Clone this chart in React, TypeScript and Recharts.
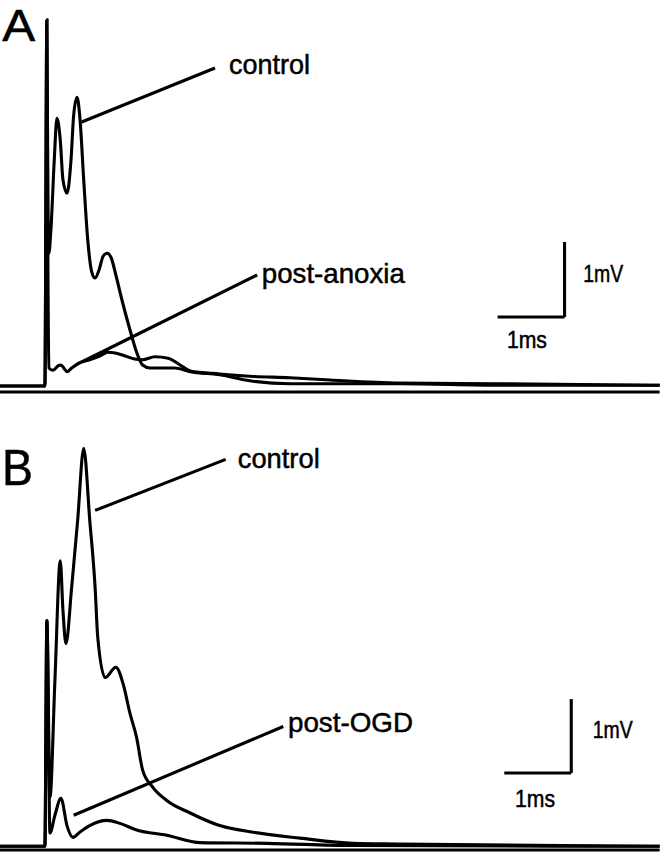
import { LineChart, Line, XAxis, YAxis, ReferenceLine, ReferenceDot } from "recharts";

// Evoked field potentials, two panels. Time in ms, amplitude in mV.
type Pt = [number, number];

// Panel A: control vs post-anoxia
const A_CONTROL: Pt[] = [
  [0, 0], [0.67, 0], [0.7, 4.88], [0.716, 2.3], [0.73, 1.77], [0.76, 2.08],
  [0.81, 3.01], [0.85, 3.57], [0.9, 3.28], [0.94, 2.75], [1.0, 2.57], [1.06, 3.01],
  [1.1, 3.61], [1.15, 3.85], [1.19, 3.61], [1.25, 2.75], [1.31, 1.95], [1.37, 1.52],
  [1.42, 1.44], [1.48, 1.55], [1.54, 1.73], [1.6, 1.77], [1.66, 1.71], [1.73, 1.48],
  [1.82, 1.15], [1.94, 0.75], [2.04, 0.45], [2.13, 0.28], [2.24, 0.24], [2.61, 0.24],
  [2.84, 0.19], [3.28, 0.15], [3.73, 0.07], [4.33, 0.03], [5.97, 0.03], [7.46, 0.01],
  [9.85, 0.01],
];
const A_ANOXIA: Pt[] = [
  [0, 0], [0.67, 0], [0.7, 4.88], [0.716, 1.5], [0.73, 0.24], [0.79, 0.21],
  [0.87, 0.27], [0.91, 0.28], [0.96, 0.23], [1.0, 0.19], [1.07, 0.24], [1.19, 0.31],
  [1.34, 0.35], [1.49, 0.4], [1.61, 0.45], [1.72, 0.44], [1.87, 0.4], [2.01, 0.36],
  [2.13, 0.35], [2.31, 0.39], [2.51, 0.37], [2.69, 0.28], [2.84, 0.2], [3.28, 0.16],
  [3.73, 0.13], [4.33, 0.11], [4.93, 0.08], [5.97, 0.04], [7.46, 0.03], [9.85, 0.01],
];

// Panel B: control vs post-OGD
const B_CONTROL: Pt[] = [
  [0, 0], [0.67, 0], [0.7, 3.05], [0.746, 0.66], [0.82, 2.24], [0.9, 3.86],
  [0.94, 3.19], [0.985, 2.74], [1.07, 3.5], [1.16, 4.41], [1.25, 5.38], [1.34, 4.41],
  [1.42, 3.5], [1.46, 2.82], [1.57, 2.28], [1.73, 2.42], [1.84, 2.19], [1.94, 1.8],
  [2.04, 1.47], [2.13, 1.03], [2.28, 0.8], [2.49, 0.62], [2.84, 0.45], [3.28, 0.28],
  [3.78, 0.19], [4.48, 0.11], [5.27, 0.04], [5.97, 0.03], [9.85, 0],
];
const B_OGD: Pt[] = [
  [0, 0], [0.67, 0], [0.7, 3.05], [0.746, 0.18], [0.82, 0.42], [0.91, 0.65],
  [1.0, 0.28], [1.09, 0.12], [1.19, 0.19], [1.34, 0.28], [1.6, 0.35], [1.79, 0.31],
  [2.04, 0.22], [2.49, 0.15], [2.99, 0.05], [3.99, 0.04], [5.27, 0.01], [9.85, 0],
];

// leader lines: [from, to] in (ms, mV)
const A_LEADERS: [Pt, Pt][] = [
  [[1.22, 3.52], [3.21, 4.24]],
  [[1.22, 0.32], [3.84, 1.48]],
];
const B_LEADERS: [Pt, Pt][] = [
  [[1.42, 4.54], [3.37, 5.23]],
  [[1.1, 0.42], [4.23, 1.62]],
];

// text: [label, t, v (left baseline), fontSize, width]
type Note = [string, number, number, number, number];
const A_NOTES: Note[] = [
  ["A", 0.035, 4.6, 45, 33],
  ["control", 3.42, 4.16, 28, 81],
  ["post-anoxia", 3.91, 1.37, 28, 143],
  ["1mV", 8.71, 1.39, 23, 40],
  ["1ms", 7.57, 0.51, 23, 40],
];
const B_NOTES: Note[] = [
  ["B", 0.03, 4.88, 50, 31],
  ["control", 3.55, 5.12, 28, 82],
  ["post-OGD", 4.3, 1.54, 28, 125],
  ["1mV", 8.85, 1.47, 23, 40],
  ["1ms", 7.69, 0.53, 23, 40],
];

// scale bar corner (ms, mV); bars are 1 ms and 1 mV
const A_SCALE: Pt = [8.43, 0.92];
const B_SCALE: Pt = [8.53, 0.99];

const W = 663;
const T_MAX = 9.9;
const INK = "#000";
const LW = 3.1;
const FONT = "'Liberation Sans', Arial, Helvetica, sans-serif";

const toRows = (pts: Pt[]) => pts.map(([t, v]) => ({ t, v }));

function Panel({
  traces,
  leaders,
  notes,
  scale,
  yDomain,
  height,
  margin,
}: {
  traces: Pt[][];
  leaders: [Pt, Pt][];
  notes: Note[];
  scale: Pt;
  yDomain: [number, number];
  height: number;
  margin: { top: number; right: number; bottom: number; left: number };
}) {
  const [cx, cy] = scale;
  return (
    <LineChart width={W} height={height} margin={margin}>
      <XAxis type="number" dataKey="t" domain={[0, T_MAX]} allowDataOverflow hide />
      <YAxis type="number" domain={yDomain} allowDataOverflow hide />
      {/* recording baseline rule under the traces */}
      <ReferenceLine
        segment={[{ x: 0, y: yDomain[0] }, { x: 9.85, y: yDomain[0] }]}
        stroke={INK}
        strokeWidth={3}
        ifOverflow="visible"
      />
      {traces.map((tr, i) => (
        <Line
          key={i}
          data={toRows(tr)}
          dataKey="v"
          type="monotone"
          stroke={INK}
          strokeWidth={LW}
          dot={false}
          activeDot={false}
          isAnimationActive={false}
        />
      ))}
      {leaders.map(([a, b], i) => (
        <ReferenceLine
          key={"l" + i}
          segment={[{ x: a[0], y: a[1] }, { x: b[0], y: b[1] }]}
          stroke={INK}
          strokeWidth={LW}
          ifOverflow="visible"
        />
      ))}
      <ReferenceLine
        segment={[{ x: cx, y: cy }, { x: cx, y: cy + 1 }]}
        stroke={INK}
        strokeWidth={LW}
        ifOverflow="visible"
      />
      <ReferenceLine
        segment={[{ x: cx - 1, y: cy }, { x: cx, y: cy }]}
        stroke={INK}
        strokeWidth={LW}
        ifOverflow="visible"
      />
      {notes.map(([text, t, v, size, len]) => (
        <ReferenceDot
          key={text}
          x={t}
          y={v}
          r={0}
          fill="none"
          stroke="none"
          ifOverflow="visible"
          label={{
            content: (p: any) => (
              <text
                x={p.viewBox.x}
                y={p.viewBox.y}
                fontSize={size}
                fontFamily={FONT}
                fill={INK}
                stroke={INK}
                strokeWidth={0.5}
                textLength={len}
                lengthAdjust="spacingAndGlyphs"
              >
                {text}
              </text>
            ),
          }}
        />
      ))}
    </LineChart>
  );
}

export default function App() {
  return (
    <div style={{ position: "absolute", left: 0, top: 0, width: W, height: 853, background: "#fff" }}>
      <div style={{ position: "absolute", left: 0, top: 0 }}>
        <Panel
          traces={[A_ANOXIA, A_CONTROL]}
          leaders={A_LEADERS}
          notes={A_NOTES}
          scale={A_SCALE}
          yDomain={[-0.08, 5.0]}
          height={400}
          margin={{ top: 11, right: 0, bottom: 8, left: 0 }}
        />
      </div>
      <div style={{ position: "absolute", left: 0, top: 418 }}>
        <Panel
          traces={[B_OGD, B_CONTROL]}
          leaders={B_LEADERS}
          notes={B_NOTES}
          scale={B_SCALE}
          yDomain={[-0.05, 5.6]}
          height={435}
          margin={{ top: 14, right: 0, bottom: 3, left: 0 }}
        />
      </div>
    </div>
  );
}
